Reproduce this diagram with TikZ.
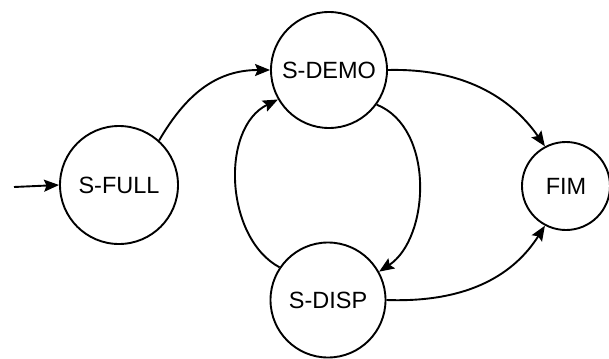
\documentclass[tikz,border=0pt]{standalone}
\usepackage{fontspec}
\setmainfont{Liberation Sans}
\usetikzlibrary{arrows.meta}
\begin{document}
\begin{tikzpicture}[x=1bp,y=1bp,
  state/.style={circle,draw,line width=1.9bp,inner sep=0pt,
    font=\fontsize{23.5bp}{28bp}\selectfont},
  link/.style={line width=1.9bp,-{Stealth[length=15bp,width=12bp,inset=2.5bp]}}]
  \useasboundingbox (0,0) rectangle (609,358);
  \node[state,minimum size=118bp] (full) at (119,173) {S-FULL};
  \node[state,minimum size=116bp] (demo) at (329,288) {S-DEMO};
  \node[state,minimum size=115bp] (disp) at (328,58) {S-DISP};
  \node[state,minimum size=88bp] (fim) at (566,172) {FIM};
  \coordinate (init) at (14,171);
  \draw[link] (init) -- (full.west);
  \draw[link] (full.48) .. controls (185,262) and (215,288) .. (demo.west);
  \draw[link] (demo.east) .. controls (470,290) and (515,255) .. (fim.118);
  \draw[link] (disp.east) .. controls (470,55) and (515,85) .. (fim.242);
  \draw[link] (demo.-36) .. controls (435,230) and (430,120) .. (disp.29);
  \draw[link] (disp.146) .. controls (225,120) and (220,230) .. (demo.210);
\end{tikzpicture}
\end{document}
